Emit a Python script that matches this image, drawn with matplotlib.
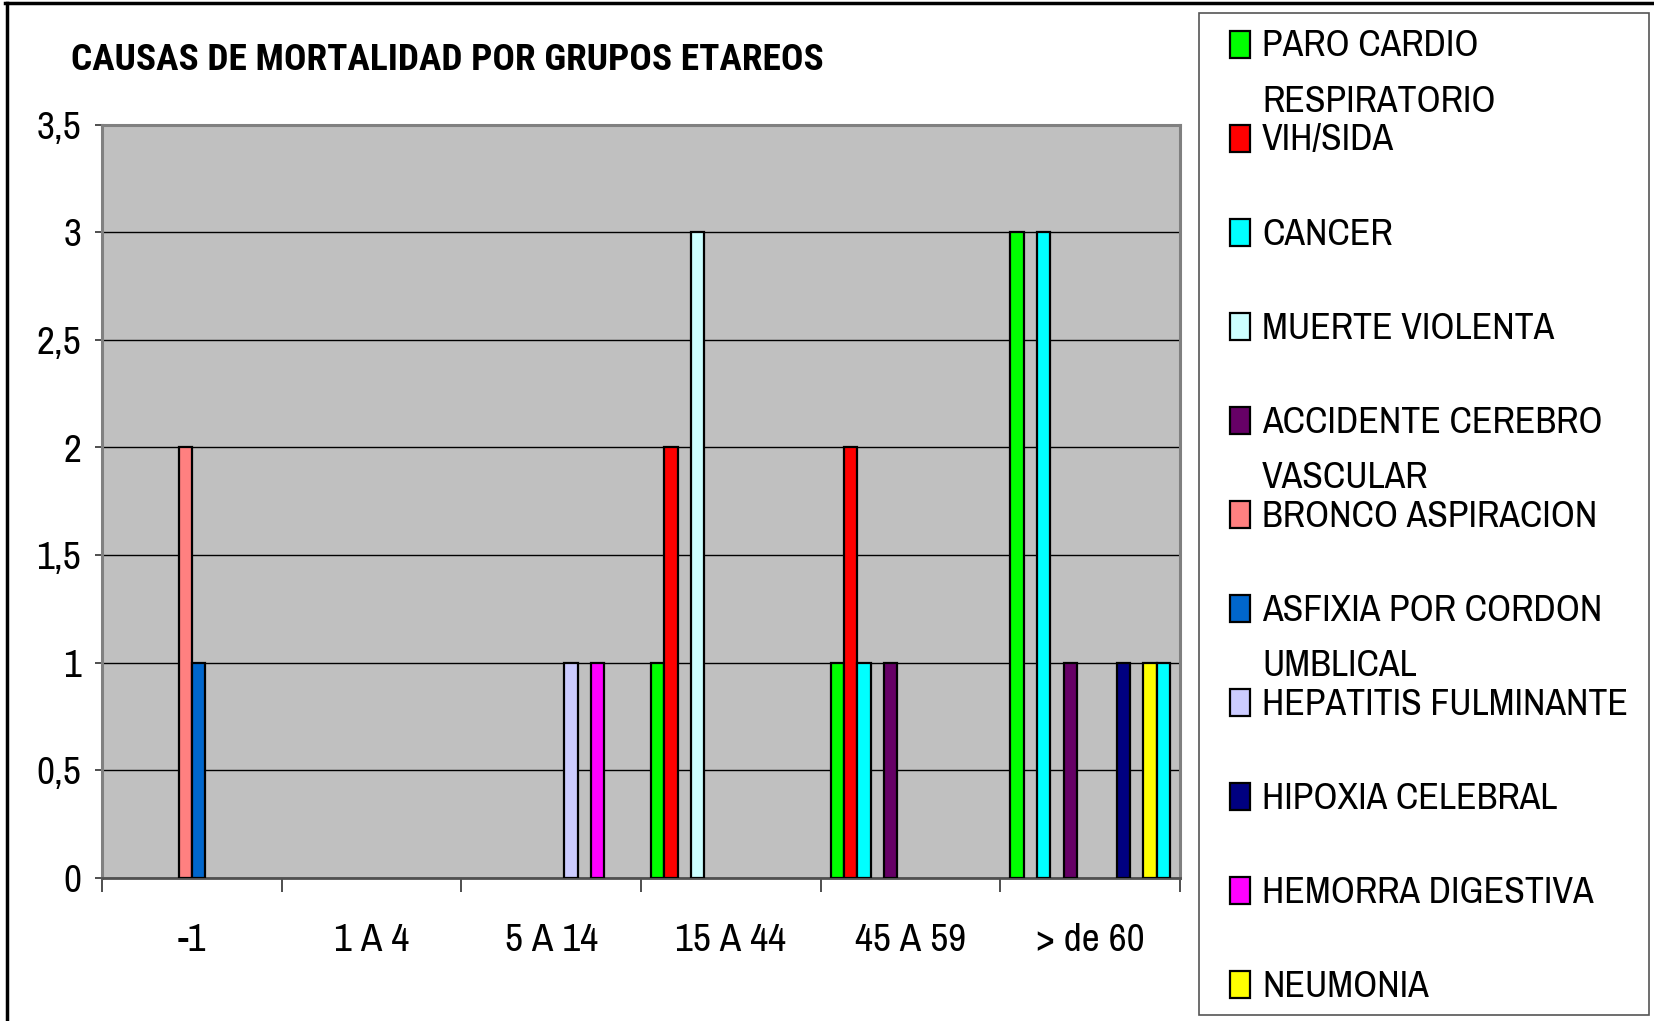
import numpy as np
import matplotlib
matplotlib.use('Agg')
import matplotlib.pyplot as plt
from matplotlib.patches import Rectangle
from matplotlib.lines import Line2D
from matplotlib.transforms import Affine2D

plt.rcParams['font.family'] = ['Archivo Narrow', 'DejaVu Sans']
TITLE_FONT = ['Roboto Condensed', 'DejaVu Sans']

# data
categories = ['-1', '1 A 4', '5 A 14', '15 A 44', '45 A 59', '> de 60']
series_names = ['PARO CARDIO\nRESPIRATORIO', 'VIH/SIDA', 'CANCER', 'MUERTE VIOLENTA',
                'ACCIDENTE CEREBRO\nVASCULAR', 'BRONCO ASPIRACION',
                'ASFIXIA POR CORDON\nUMBLICAL', 'HEPATITIS FULMINANTE',
                'HIPOXIA CELEBRAL', 'HEMORRA DIGESTIVA', 'NEUMONIA', 'SERIE 12']
paro = [0, 0, 0, 1, 1, 3]
vih = [0, 0, 0, 2, 2, 0]
cancer = [0, 0, 0, 0, 1, 3]
muerte = [0, 0, 0, 3, 0, 0]
acv = [0, 0, 0, 0, 1, 1]
bronco = [2, 0, 0, 0, 0, 0]
asfixia = [1, 0, 0, 0, 0, 0]
hepatitis = [0, 0, 1, 0, 0, 0]
hipoxia = [0, 0, 0, 0, 0, 1]
hemorra = [0, 0, 1, 0, 0, 0]
neumonia = [0, 0, 0, 0, 0, 1]
serie12 = [0, 0, 0, 0, 0, 1]  # 12th series, its legend entry is cut off
values = [paro, vih, cancer, muerte, acv, bronco, asfixia, hepatitis,
          hipoxia, hemorra, neumonia, serie12]
colors = ['#00FF00', '#FF0000', '#00FFFF', '#CCFFFF', '#660066', '#FF8080',
          '#0066CC', '#CCCCFF', '#000080', '#FF00FF', '#FFFF00', '#00FFFF']
n_legend = 11
title = 'CAUSAS DE MORTALIDAD POR GRUPOS ETAREOS'

W, H = 1654, 1021
fig = plt.figure(figsize=(W / 100, H / 100), dpi=100)
renderer = fig.canvas.get_renderer()
# pixel coords, origin top-left
px = Affine2D().scale(1 / W, -1 / H).translate(0, 1) + fig.transFigure


def fit_size(text, target_px, **kw):
    # font size that makes `text` about target_px wide
    t = fig.text(0, 0, text, fontsize=30, **kw)
    wd = t.get_window_extent(renderer).width
    t.remove()
    return 30 * target_px / wd


tick_fs = fit_size('> de 60', 108)
leg_fs = fit_size('HEPATITIS FULMINANTE', 366)
title_fs = fit_size(title, 752, family=TITLE_FONT, fontweight='bold')

ax = fig.add_axes([102 / W, 1 - 877.5 / H, (1180 - 102) / W, (877.5 - 125) / H])
ax.set_facecolor('#C0C0C0')

x = np.arange(len(categories))
n = len(values)
w = 1 / 13.5
for i, (vals, c) in enumerate(zip(values, colors)):
    bars = ax.bar(x + (i - (n - 1) / 2) * w, vals, width=w, color=c,
                  edgecolor='black', linewidth=1.6, zorder=3)
    for b, v in zip(bars, vals):
        if v == 0:
            b.set_visible(False)

ax.set_xlim(-0.5, len(categories) - 0.5)
ax.set_ylim(0, 3.5)
yt = np.arange(0, 3.51, 0.5)
ax.set_yticks(yt)
ax.set_yticklabels([('%g' % t).replace('.', ',') for t in yt], fontsize=tick_fs)
ax.yaxis.grid(True, color='black', linewidth=1.0, zorder=1)
ax.set_axisbelow(True)

ax.set_xticks(x)
ax.set_xticklabels(categories, fontsize=tick_fs)
ax.set_xticks(np.arange(-0.5, len(categories)), minor=True)
ax.tick_params(axis='x', which='major', length=0, pad=33)
ax.tick_params(axis='x', which='minor', length=10, width=1.3, color='#404040')
ax.tick_params(axis='y', length=5, width=1.3, color='#404040', pad=10)

for s in ['top', 'left', 'right']:
    ax.spines[s].set_color('#808080')
    ax.spines[s].set_linewidth(2.2)
ax.spines['bottom'].set_color('#505050')
ax.spines['bottom'].set_linewidth(2.0)

fig.text(71, 69.5, title, transform=px, family=TITLE_FONT,
         fontsize=title_fs, fontweight='bold', va='baseline', ha='left')

# legend box
fig.add_artist(Rectangle((1199, 13), 450, 1002, transform=px, fill=False,
                         edgecolor='#555555', linewidth=1.2))
for i in range(n_legend):
    yc = 44.5 + 94 * i
    fig.add_artist(Rectangle((1230, yc - 13.5), 20, 27, transform=px,
                             facecolor=colors[i], edgecolor='black', linewidth=1.6))
    for j, line in enumerate(series_names[i].split('\n')):
        fig.text(1262, yc + 12 + 55 * j, line, transform=px, fontsize=leg_fs,
                 va='baseline', ha='left')

# outer frame (left and top edges visible)
fig.add_artist(Line2D([7, 7], [3, H], transform=px, color='black', linewidth=2.5))
fig.add_artist(Line2D([5, W], [3, 3], transform=px, color='black', linewidth=2.5))

fig.savefig('out.png', dpi=100, facecolor='white')
